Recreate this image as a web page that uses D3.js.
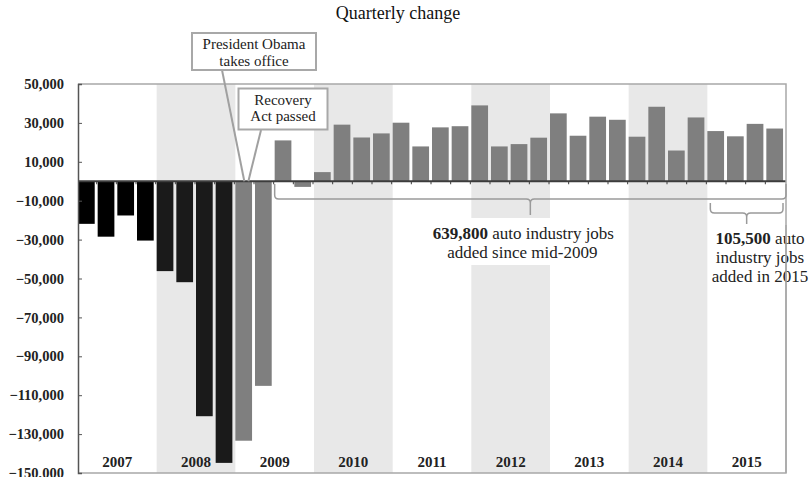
<!DOCTYPE html>
<html>
<head>
<meta charset="utf-8">
<script src="https://cdn.jsdelivr.net/npm/d3@7"></script>
<style>
  html, body { margin: 0; padding: 0; background: #fff; }
  svg { display: block; }
  text { font-family: "Liberation Serif", "Times New Roman", serif; }
</style>
</head>
<body>
<svg id="chart" width="809" height="477"></svg>
<script>
// Quarterly change in auto industry jobs, 2007–2015
const years = [2007, 2008, 2009, 2010, 2011, 2012, 2013, 2014, 2015];
const quarters = ["Q1", "Q2", "Q3", "Q4"];
const shadedYears = [2008, 2010, 2012, 2014];

const values2007 = [-21900, -28500, -17600, -30500];
const values2008 = [-46200, -51900, -120800, -144800];
const values2009 = [-133400, -105200, 21000, -2900];
const values2010 = [4700, 29100, 22500, 24600];
const values2011 = [30100, 17900, 27700, 28300];
const values2012 = [39000, 17900, 19100, 22400];
const values2013 = [34900, 23400, 33200, 31600];
const values2014 = [22900, 38300, 15800, 32800];
const values2015 = [25800, 23100, 29500, 27100];

const yTicks = [50000, 30000, 10000, -10000, -30000, -50000, -70000, -90000, -110000, -130000, -150000];

const title = "Quarterly change";
const eventObama = ["President Obama", "takes office"];
const eventRecovery = ["Recovery", "Act passed"];
const totalSince2009 = "639,800";
const total2015 = "105,500";

const series = [values2007, values2008, values2009, values2010, values2011,
                values2012, values2013, values2014, values2015];
const data = [];
years.forEach((yr, i) => {
  series[i].forEach((v, q) => data.push({ year: yr, key: yr + " " + quarters[q], value: v }));
});

const barColor = d => d.year === 2007 ? "#000000" : d.year === 2008 ? "#1a1a1a" : "#7f7f7f";

const svg = d3.select("#chart");
const plotLeft = 78, plotRight = 786, plotTop = 84, plotBottom = 473;

const x = d3.scaleBand().domain(data.map(d => d.key)).range([plotLeft, plotRight]).padding(0);
const y = d3.scaleLinear().domain([-150000, 50000]).range([plotBottom, plotTop]);
const bw = x.bandwidth() * 0.85;

// title
svg.append("text").attr("x", 398).attr("y", 19).attr("text-anchor", "middle")
  .attr("font-size", 18).attr("fill", "#111").text(title);

// alternating year shading
const yearStart = yr => x(yr + " Q1");
const yearEnd = yr => x(yr + " Q4") + x.bandwidth();
svg.append("g").selectAll("rect").data(shadedYears).join("rect")
  .attr("x", d => yearStart(d)).attr("width", d => yearEnd(d) - yearStart(d))
  .attr("y", plotTop).attr("height", plotBottom - plotTop).attr("fill", "#e8e8e8");

// bars
svg.append("g").selectAll("rect").data(data).join("rect")
  .attr("x", d => x(d.key)).attr("width", bw)
  .attr("y", d => y(Math.max(0, d.value)))
  .attr("height", d => Math.abs(y(d.value) - y(0)))
  .attr("fill", barColor);

// zero line with quarter ticks
svg.append("line").attr("x1", plotLeft).attr("x2", plotRight).attr("y1", y(0)).attr("y2", y(0))
  .attr("stroke", "#3c3c3c").attr("stroke-width", 2);
svg.append("g").selectAll("line").data(data.slice(1)).join("line")
  .attr("x1", d => x(d.key) - 1).attr("x2", d => x(d.key) - 1)
  .attr("y1", y(0)).attr("y2", y(0) + 3)
  .attr("stroke", "#3c3c3c").attr("stroke-width", 1);

// plot frame (top, right, bottom)
svg.append("path")
  .attr("d", `M${plotLeft},${plotTop}H${plotRight}V${plotBottom}H${plotLeft}`)
  .attr("fill", "none").attr("stroke", "#a8a8a8").attr("stroke-width", 1.5);

// y axis
const yAxis = d3.axisLeft(y).tickValues(yTicks).tickSize(-4).tickPadding(14)
  .tickFormat(d3.format(","));
const ya = svg.append("g").attr("transform", `translate(${plotLeft},0)`).call(yAxis);
ya.select(".domain").attr("stroke", "#555").attr("stroke-width", 1.5);
ya.selectAll(".tick line").attr("stroke", "#555");
ya.selectAll(".tick text").attr("font-family", "Liberation Serif, serif")
  .attr("font-size", 14.5).attr("font-weight", "bold").attr("fill", "#222");

// year labels
svg.append("g").selectAll("text").data(years).join("text")
  .attr("x", d => (yearStart(d) + yearEnd(d)) / 2).attr("y", 467)
  .attr("text-anchor", "middle").attr("font-size", 15).attr("font-weight", "bold")
  .attr("fill", "#222").text(d => d);

// curly brackets under the recovery quarters
function bracket(x0, x1, yTop, yLine, yTip) {
  const mid = (x0 + x1) / 2, r = 4;
  return `M${x0},${yTop}V${yLine - r}Q${x0},${yLine} ${x0 + r},${yLine}` +
         `H${mid - r}Q${mid},${yLine} ${mid},${yLine + r}V${yTip}` +
         `M${mid},${yLine + r}Q${mid},${yLine} ${mid + r},${yLine}` +
         `H${x1 - r}Q${x1},${yLine} ${x1},${yLine - r}V${yTop}`;
}
const bx0 = x("2009 Q3"), bx1 = plotRight;
svg.append("path").attr("d", bracket(bx0, bx1, 184, 199, 215))
  .attr("fill", "none").attr("stroke", "#9a9a9a").attr("stroke-width", 1.5);
const cx0 = x("2015 Q1") + 3, cx1 = x("2015 Q4") + x.bandwidth() - 3;
svg.append("path").attr("d", bracket(cx0, cx1, 203, 213, 224))
  .attr("fill", "none").attr("stroke", "#9a9a9a").attr("stroke-width", 1.5);

// total since mid-2009
const midA = (bx0 + bx1) / 2;
svg.append("rect").attr("x", 430).attr("y", 218).attr("width", 186).attr("height", 47).attr("fill", "#fff");
const tA = svg.append("text").attr("text-anchor", "middle").attr("font-size", 17).attr("fill", "#222");
const lA1 = tA.append("tspan").attr("x", midA - 7).attr("y", 239);
lA1.append("tspan").attr("font-weight", "bold").text(totalSince2009);
lA1.append("tspan").text(" auto industry jobs");
tA.append("tspan").attr("x", midA - 8).attr("y", 257.5).text("added since mid-2009");

// total for 2015
const midB = 760;
const tB = svg.append("text").attr("text-anchor", "middle").attr("font-size", 17).attr("fill", "#222");
const lB1 = tB.append("tspan").attr("x", midB).attr("y", 244);
lB1.append("tspan").attr("font-weight", "bold").text(total2015);
lB1.append("tspan").text(" auto");
tB.append("tspan").attr("x", midB).attr("y", 263).text("industry jobs");
tB.append("tspan").attr("x", midB).attr("y", 282).text("added in 2015");

// frame line over the 2015 note
svg.append("line").attr("x1", plotRight).attr("x2", plotRight).attr("y1", 225).attr("y2", plotBottom)
  .attr("stroke", "#a8a8a8").attr("stroke-width", 1.5);

// event callouts
function callout(lines, bx, by, bwid, bht, from, to) {
  svg.append("line").attr("x1", from[0]).attr("y1", from[1]).attr("x2", to[0]).attr("y2", to[1])
    .attr("stroke", "#a0a0a0").attr("stroke-width", 2);
  svg.append("rect").attr("x", bx).attr("y", by).attr("width", bwid).attr("height", bht)
    .attr("fill", "#fff").attr("stroke", "#a8a8a8").attr("stroke-width", 2);
  const t = svg.append("text").attr("text-anchor", "middle").attr("font-size", 15).attr("fill", "#222");
  lines.forEach((s, i) => t.append("tspan").attr("x", bx + bwid / 2).attr("y", by + 16 + i * 16.5).text(s));
}
callout(eventObama, 192, 33, 124, 37, [222, 70], [x("2009 Q1") + 9, y(0)]);
callout(eventRecovery, 238.5, 88.5, 89, 41, [261, 130], [x("2009 Q1") + 13, y(0)]);
</script>
</body>
</html>
